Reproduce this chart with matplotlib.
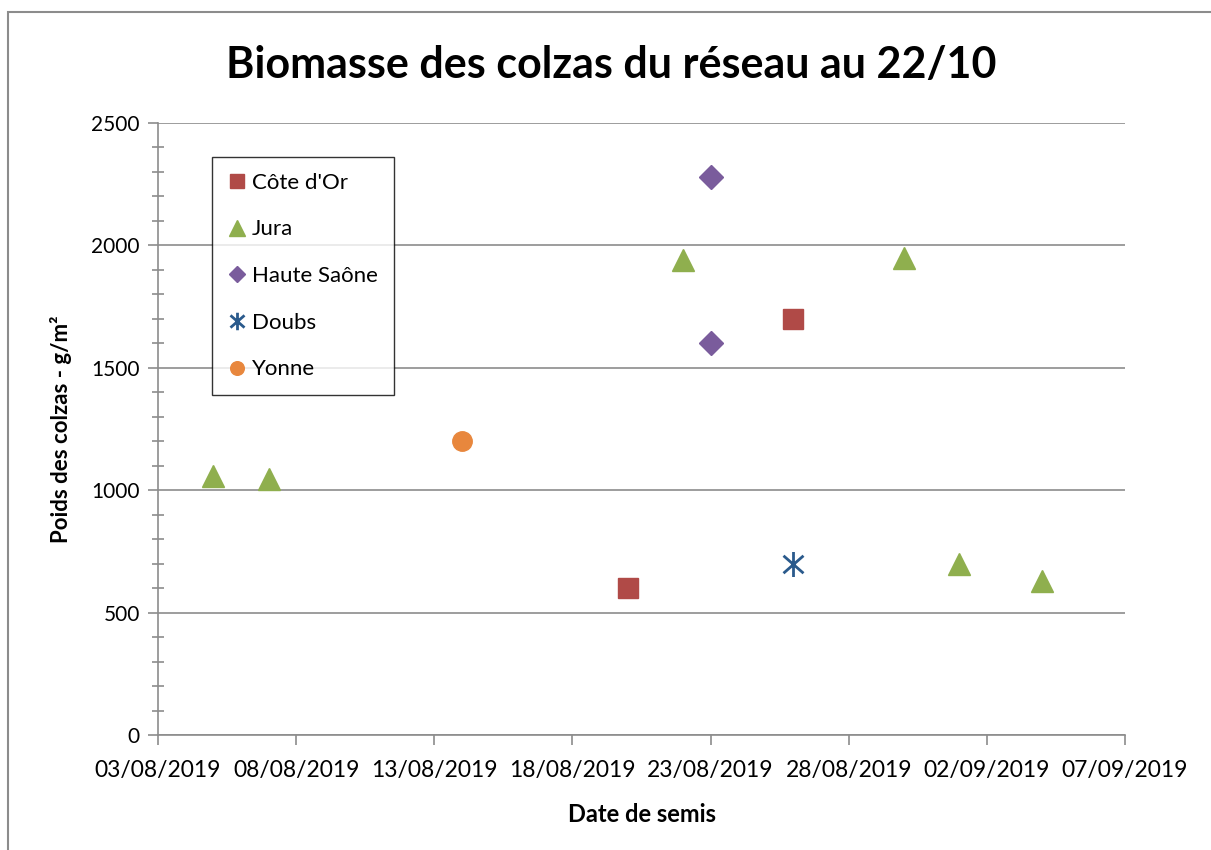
import datetime as dt
import matplotlib
matplotlib.use("Agg")
import matplotlib.pyplot as plt
import matplotlib.dates as mdates
from matplotlib.ticker import MultipleLocator
from matplotlib.patches import Rectangle
from matplotlib.path import Path

plt.rcParams['font.family'] = ['Lato', 'DejaVu Sans']

# dates de semis et poids (g/m²) par département
cote_dor_dates = ["2019-08-20", "2019-08-26"]
cote_dor_poids = [600, 1700]

jura_dates = ["2019-08-05", "2019-08-07", "2019-08-22", "2019-08-30",
              "2019-09-01", "2019-09-04"]
jura_poids = [1060, 1045, 1940, 1950, 700, 630]

haute_saone_dates = ["2019-08-23", "2019-08-23"]
haute_saone_poids = [2280, 1600]

doubs_dates = ["2019-08-26"]
doubs_poids = [700]

yonne_dates = ["2019-08-14"]
yonne_poids = [1200]


def d(liste):
    return [dt.datetime.strptime(x, "%Y-%m-%d") for x in liste]


# marqueur etoile (trait vertical + croix) comme dans Excel
etoile = Path([(0, -1), (0, 1), (-0.8, -0.7), (0.8, 0.7), (-0.8, 0.7), (0.8, -0.7)],
              [Path.MOVETO, Path.LINETO, Path.MOVETO, Path.LINETO,
               Path.MOVETO, Path.LINETO])

fig = plt.figure(figsize=(12.11, 8.5), dpi=100)
ax = fig.add_axes([0.1305, 0.1353, 0.7985, 0.72])

# cadre du graphique
fig.patches.append(Rectangle((8 / 1211, -0.01), 1.1, 1 - 12 / 850 + 0.01,
                             transform=fig.transFigure, fill=False,
                             edgecolor='#8c8c8c', linewidth=1.5))

ax.plot(d(cote_dor_dates), cote_dor_poids, 's', color='#B04A47', ms=14,
        label="Côte d'Or")
ax.plot(d(jura_dates), jura_poids, '^', color='#8FAF4E', ms=16,
        label="Jura")
ax.plot(d(haute_saone_dates), haute_saone_poids, 'D', color='#7A5C9C', ms=12,
        label="Haute Saône")
ax.plot(d(doubs_dates), doubs_poids, marker=etoile, ls='none', color='#2A5A8C',
        ms=18, mew=2, label="Doubs")
ax.plot(d(yonne_dates), yonne_poids, 'o', color='#E8873D', ms=14,
        label="Yonne")

ax.set_xlim(dt.datetime(2019, 8, 3), dt.datetime(2019, 9, 7))
ax.set_ylim(0, 2500)
ax.set_xticks([dt.datetime(2019, 8, 3) + dt.timedelta(days=5 * i) for i in range(8)])
ax.xaxis.set_major_formatter(mdates.DateFormatter("%d/%m/%Y"))
ax.yaxis.set_major_locator(MultipleLocator(500))
ax.yaxis.set_minor_locator(MultipleLocator(100))

ax.grid(axis='y', which='major', color='#8c8c8c', linewidth=1.2)
ax.set_axisbelow(True)
for s in ['top', 'right']:
    ax.spines[s].set_visible(False)
for s in ['left', 'bottom']:
    ax.spines[s].set_color('#8c8c8c')
    ax.spines[s].set_linewidth(1.2)

ax.tick_params(axis='y', which='major', length=7, color='#8c8c8c', width=1.2,
               labelsize=15, pad=6)
ax.tick_params(axis='y', which='minor', direction='inout', length=9,
               color='#8c8c8c', width=1.2)
ax.tick_params(axis='x', which='major', length=7, color='#8c8c8c', width=1.2,
               labelsize=16.5, pad=11)

fig.text(611 / 1211, 1 - 65 / 850, "Biomasse des colzas du réseau au 22/10",
         fontsize=31, fontweight='bold', ha='center', va='center')
ax.set_ylabel("Poids des colzas - g/m²", fontsize=16, fontweight='bold',
              labelpad=14)
ax.set_xlabel("Date de semis", fontsize=17, fontweight='bold', labelpad=16)

leg = ax.legend(loc='upper left', bbox_to_anchor=(0.056, 0.944),
                borderaxespad=0, fancybox=False, edgecolor='black',
                fontsize=16, labelspacing=1.2, handlelength=0.8,
                handletextpad=0.3, borderpad=0.7, markerscale=0.7)
leg.get_frame().set_linewidth(1.0)

fig.savefig("out.png", dpi=100)
